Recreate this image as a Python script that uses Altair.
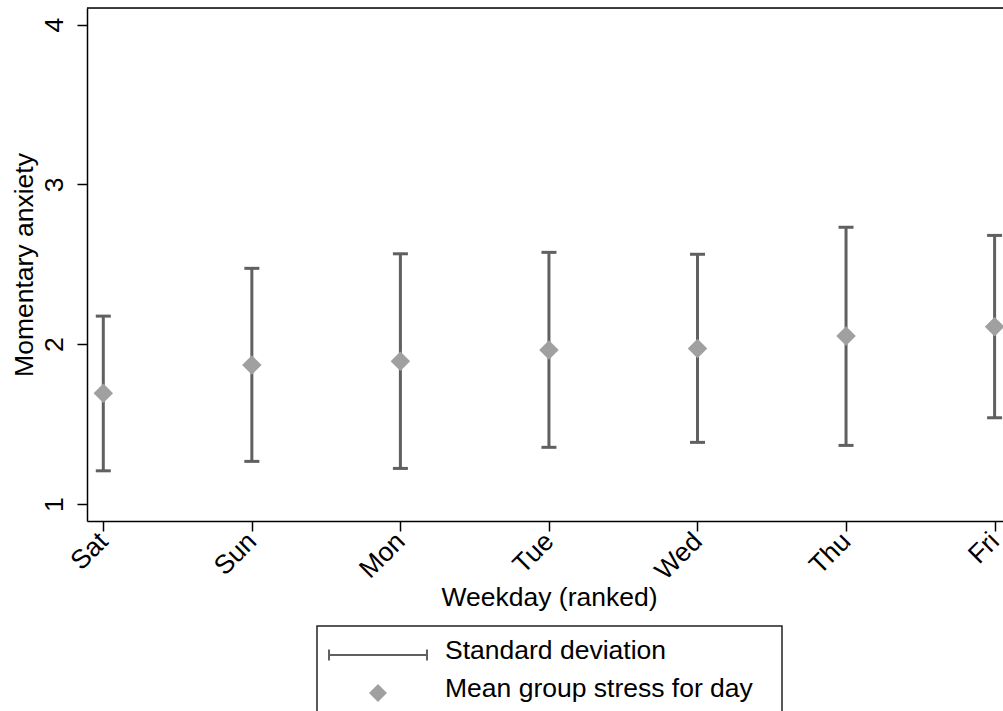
import json
import altair as alt
import pandas as pd

# ---- data ----
days = ["Sat", "Sun", "Mon", "Tue", "Wed", "Thu", "Fri"]
day_index = [0, 1, 2, 3, 4, 5, 6]
mean_vals = [1.693, 1.870, 1.893, 1.964, 1.974, 2.051, 2.110]
sd_lower = [1.208, 1.267, 1.223, 1.355, 1.386, 1.367, 1.540]
sd_upper = [2.176, 2.475, 2.566, 2.575, 2.563, 2.732, 2.681]
y_ticks = [1, 2, 3, 4]
legend_labels = ["Standard deviation", "Mean group stress for day"]

df = pd.DataFrame({
    "idx": day_index,
    "day": days,
    "mean": mean_vals,
    "lo": sd_lower,
    "hi": sd_upper,
    "series": [legend_labels[1]] * len(days),
})

FONT = "Liberation Sans"
FS = 26.5
W, H = 916, 513
BAR = "#606060"
DIA = "#a0a0a0"

xscale = alt.Scale(domain=[-0.1097, 6.0566], nice=False, zero=False)
yscale = alt.Scale(domain=[0.894, 4.104], nice=False, zero=False)

label_expr = json.dumps(days) + "[datum.value]"

xaxis = alt.Axis(
    values=day_index, labelExpr=label_expr, title="Weekday (ranked)",
    labelAngle=-45, labelAlign="right", labelBaseline="middle", labelPadding=6,
    tickSize=10, tickWidth=1.5, tickColor="black", domainColor="black", domainWidth=1.5,
    labelFontSize=FS, labelFont=FONT, labelColor="black", grid=False,
    titleFontSize=FS, titleFont=FONT, titleFontWeight="normal", titleColor="black",
    titleX=462, titleY=84, titleAlign="center", titleBaseline="alphabetic",
)
yaxis = alt.Axis(
    values=y_ticks, title="Momentary anxiety", format="d",
    labelAngle=-90, labelAlign="center", labelBaseline="alphabetic", labelPadding=14.5,
    tickSize=10, tickWidth=1.5, tickColor="black", domainColor="black", domainWidth=1.5,
    labelFontSize=FS, labelFont=FONT, labelColor="black", grid=False,
    titleFontSize=FS, titleFont=FONT, titleFontWeight="normal", titleColor="black",
    titleAngle=-90, titleX=-55, titleY=256.5, titleAlign="center", titleBaseline="alphabetic",
)

base = alt.Chart(df)

bars = base.mark_rule(color=BAR, strokeWidth=3).encode(
    x=alt.X("idx:Q", scale=xscale, axis=xaxis),
    y=alt.Y("lo:Q", scale=yscale, axis=yaxis),
    y2="hi:Q",
)
cap_lo = base.mark_tick(color=BAR, orient="horizontal", size=15, thickness=3, opacity=1).encode(
    x=alt.X("idx:Q", scale=xscale), y=alt.Y("lo:Q", scale=yscale)
)
cap_hi = base.mark_tick(color=BAR, orient="horizontal", size=15, thickness=3, opacity=1).encode(
    x=alt.X("idx:Q", scale=xscale), y=alt.Y("hi:Q", scale=yscale)
)
diamonds = base.mark_point(shape="diamond", filled=True, size=380, color=DIA, opacity=1).encode(
    x=alt.X("idx:Q", scale=xscale), y=alt.Y("mean:Q", scale=yscale)
)

# legend symbols (custom paths in legend-symbol units of 17.5 px); the
# degenerate sub-paths only stretch the legend box to the reference's extent
err_path = ("M-2.857,-0.057H-2.743V0.2H2.743V-0.057H2.857V0.571H2.743V0.314"
            "H-2.743V0.571H-2.857Z M22.63,0.25L22.63,0.251L22.629,0.25Z")
dia_path = ("M0,-0.257L0.514,0.257L0,0.771L-0.514,0.257Z"
            " M0,1.6L0.001,1.6L0,1.601Z")

leg = alt.Legend(
    title=None, orient="none", legendX=230, legendY=618, direction="vertical",
    padding=7, strokeColor="#222222", fillColor="white",
    labelFontSize=FS, labelFont=FONT, labelColor="black", labelLimit=2000,
    symbolOffset=36.5, labelOffset=49.5, rowPadding=7, symbolSize=1225,
    symbolStrokeWidth=0, symbolOpacity=1,
)
legend_layer = base.mark_point(filled=True, opacity=0).encode(
    x=alt.X("idx:Q", scale=xscale), y=alt.Y("mean:Q", scale=yscale),
    shape=alt.Shape("series:N", scale=alt.Scale(domain=legend_labels, range=[err_path, dia_path]), legend=leg),
    color=alt.Color("series:N", scale=alt.Scale(domain=legend_labels, range=[BAR, DIA]), legend=leg),
)

top_border = alt.Chart(alt.Data(values=[{"k": 1}])).mark_rule(color="black", strokeWidth=1.5).encode(
    x=alt.value(0), x2=alt.value(W), y=alt.value(0)
)

chart = alt.layer(bars, cap_lo, cap_hi, diamonds, legend_layer, top_border).properties(
    width=W, height=H,
    autosize=alt.AutoSizeParams(type="none"),
    padding={"left": 87, "top": 8, "right": 0, "bottom": 190},
    background="white",
).configure_view(strokeWidth=0).configure(font=FONT).configure_legend(strokeWidth=1.5)

chart.save("out.html", embed_options={"renderer": "svg", "actions": False})
